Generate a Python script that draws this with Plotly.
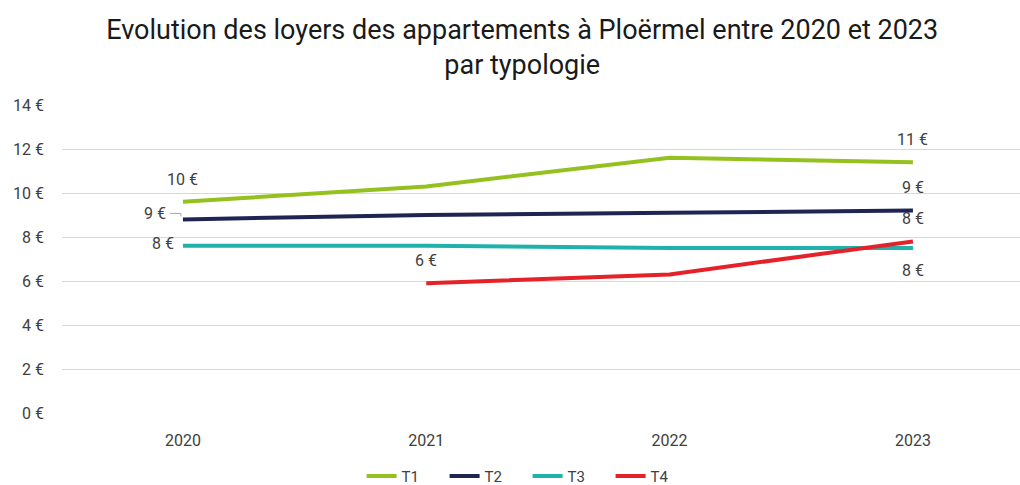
import plotly.graph_objects as go

years = ["2020", "2021", "2022", "2023"]
t1 = [9.6, 10.3, 11.6, 11.4]
t2 = [8.8, 9.0, 9.1, 9.2]
t3 = [7.6, 7.6, 7.5, 7.5]
t4 = [None, 5.9, 6.3, 7.8]

series_names = ["T1", "T2", "T3", "T4"]
series_values = [t1, t2, t3, t4]
colors = ["#95c11f", "#1f2454", "#20b2aa", "#e52229"]

# value labels: point index -> (xanchor, xshift, yshift)
label_spec = [
    {0: ("center", 0, 22), 3: ("center", 0, 23)},
    {0: ("right", -15, 6), 3: ("center", 0, 23)},
    {0: ("right", -7, 2), 3: ("center", 0, -22)},
    {1: ("center", 0, 23), 3: ("center", 0, 23)},
]

y_ticks = [0, 2, 4, 6, 8, 10, 12, 14]


def euro(v):
    return f"{int(v + 0.5)} €"


fig = go.Figure()
for name, vals, col, spec in zip(series_names, series_values, colors, label_spec):
    fig.add_trace(go.Scatter(
        x=years, y=vals, name=name, mode="lines",
        line=dict(color=col, width=4),
        cliponaxis=False,
    ))
    for i, (xa, dx, dy) in spec.items():
        fig.add_annotation(
            x=i, y=vals[i], xref="x", yref="y",
            text=euro(vals[i]), showarrow=False,
            xanchor=xa, yanchor="middle", xshift=dx, yshift=dy,
            font=dict(family="Roboto", size=16, color="#404040"),
        )

# leader line from the T2 2020 label to its point
fig.add_shape(
    type="path", xref="x", yref="y",
    xsizemode="pixel", ysizemode="pixel",
    xanchor=0, yanchor=t2[0],
    path="M -13,6 L -2,6 L -2,3",
    line=dict(color="#a6a6a6", width=1),
)

fig.update_layout(
    width=1020, height=485,
    paper_bgcolor="white", plot_bgcolor="white",
    margin=dict(l=62, r=0, t=105, b=72, autoexpand=False),
    font=dict(family="Roboto", color="#595959"),
    title=dict(
        text="Evolution des loyers des appartements à Ploërmel entre 2020 et 2023<br>par typologie",
        x=0.512, xanchor="center", yref="container", y=0.92, yanchor="top",
        font=dict(family="Roboto", size=27, color="#1a1a1a"),
    ),
    xaxis=dict(
        type="category", range=[-0.497, 3.44],
        showgrid=False, showline=False, zeroline=False,
        ticks="", tickfont=dict(family="Roboto", size=16, color="#404040"),
        ticklabelstandoff=16,
    ),
    yaxis=dict(
        range=[0, 14], tickvals=y_ticks,
        ticktext=[f"{v} €" for v in y_ticks],
        showgrid=True, gridcolor="#d9d9d9", gridwidth=1,
        zeroline=False, showline=False, ticks="",
        tickfont=dict(family="Roboto", size=16, color="#404040"),
        ticklabelstandoff=17,
    ),
    showlegend=True,
    legend=dict(
        orientation="h", x=0.486, xanchor="center", y=-0.205, yanchor="middle",
        font=dict(family="Roboto", size=15, color="#404040"),
        entrywidth=38, entrywidthmode="pixels",
    ),
)

fig.write_html("out.html")
